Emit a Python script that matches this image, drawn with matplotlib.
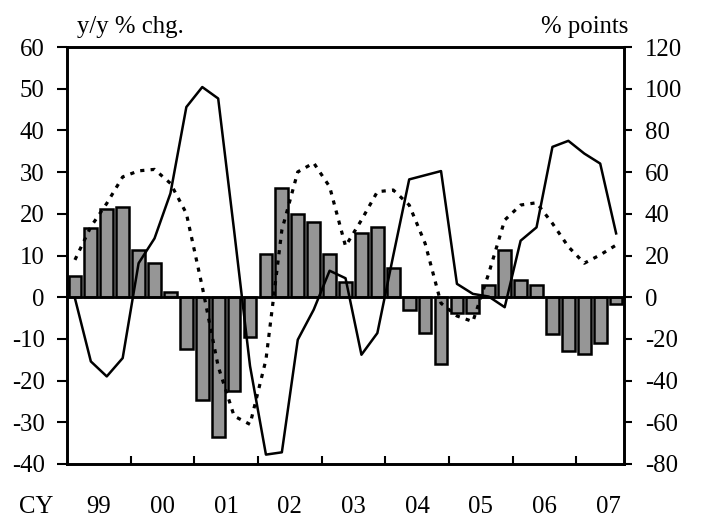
import matplotlib
matplotlib.use("Agg")
import matplotlib.pyplot as plt
import numpy as np

plt.rcParams['font.family'] = ['Liberation Serif', 'DejaVu Serif']
plt.rcParams['lines.scale_dashes'] = False
plt.rcParams['axes.unicode_minus'] = False

# quarterly data, 1999Q1 .. 2007Q3
years = ["99", "00", "01", "02", "03", "04", "05", "06", "07"]
bars = [5, 16.7, 21.1, 21.6,
        11.2, 8.1, 1.3, -12.4,
        -24.6, -33.5, -22.4, -9.6,
        10.4, 26.2, 19.9, 18.0,
        10.4, 3.6, 15.5, 16.8,
        6.9, -3.0, -8.6, -16.1,
        -3.7, -3.7, 2.9, 11.2,
        4.2, 2.9, -8.9, -13.0,
        -13.7, -11.1, -1.6]
# % points (right axis)
solid = [-0.5, -30.8, -38, -29.2,
         16.3, 28.2, 49.8, 91.2,
         100.8, 95.3, 32, -33,
         -75.5, -74.4, -20.4, -6,
         12.7, 9.1, -27.6, -17.2,
         20, 56.5, 58.5, 60.5,
         6.4, 1.6, 0.3, -4.8,
         27.1, 33.5, 72.1, 75,
         68.9, 64.1, 30.6]
dotted = [17.9, 33.8, 45, 57.7,
          60.6, 61.3, 54.6, 40.2,
          5, -33.2, -57, -61,
          -30, 32.2, 60.1, 64.4,
          53, 24.5, 37, 50.6,
          51.4, 44.2, 25.8, -2.9,
          -9, -11.7, 11.5, 37,
          44.2, 45.3, 35.4, 24.2,
          16.3, 20.3, 25]

x = np.arange(len(bars))
fs = 17.8

fig = plt.figure(figsize=(7.02, 5.20), dpi=100)
ax = fig.add_axes([0.0954, 0.1077, 0.889 - 0.0954, 0.9096 - 0.1077])
ax2 = ax.twinx()

ax.bar(x, bars, width=0.8, color='#969696', edgecolor='black', linewidth=1.8, zorder=2)
ax.axhline(0, color='black', linewidth=1.9, zorder=3)

ax2.plot(x, solid, color='black', linewidth=1.8)
ax2.plot(x, dotted, color='black', linewidth=2.3, linestyle=(0, (3, 4.5)))

ax.set_xlim(-0.5, 34.5)
ax.set_ylim(-40, 60)
ax2.set_ylim(-80, 120)
ax.set_yticks(np.arange(-40, 61, 10))
ax2.set_yticks(np.arange(-80, 121, 20))

ax.set_xticks(np.arange(3.5, 34, 4))
ax.set_xticklabels([])
ax.tick_params(axis='x', direction='in', length=6, width=1.5)
ax.tick_params(axis='y', direction='out', length=7, width=1.5, labelsize=fs, pad=9)
ax2.tick_params(axis='y', direction='out', length=6, width=1.5, labelsize=fs, pad=9)

for i, yr in enumerate(years):
    ax.text(1.5 + 4 * i, -0.102, yr, transform=ax.get_xaxis_transform(),
            ha='center', va='center', fontsize=fs)
ax.text(-0.025, -0.102, "CY", transform=ax.transAxes, ha='right', va='center', fontsize=fs)

for a in (ax, ax2):
    for s in a.spines.values():
        s.set_linewidth(1.9)

ax.text(0.018, 1.034, "y/y % chg.", transform=ax.transAxes, ha='left', va='baseline', fontsize=fs)
ax.text(1.008, 1.034, "% points", transform=ax.transAxes, ha='right', va='baseline', fontsize=fs)

fig.savefig("out.png", dpi=100)
